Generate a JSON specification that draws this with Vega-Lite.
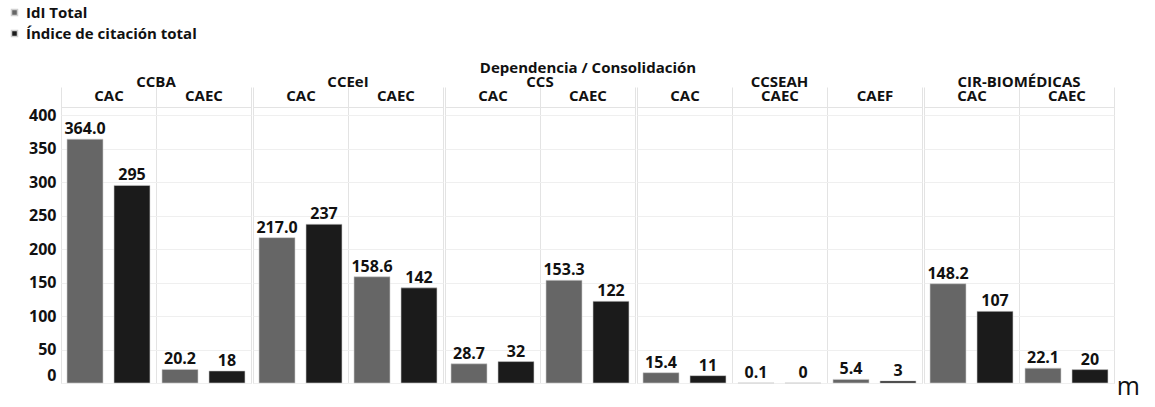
{
  "$schema": "https://vega.github.io/schema/vega-lite/v6.json",
  "title": {
    "text": "m",
    "orient": "bottom",
    "anchor": "end",
    "frame": "bounds",
    "offset": -9,
    "dx": 25,
    "font": "Open Sans",
    "fontSize": 25,
    "fontWeight": "normal",
    "color": "#111111"
  },
  "data": {
    "values": [
      {"dep": "CCBA", "cons": "CAC", "serie": "IdI Total", "value": 364.0},
      {"dep": "CCBA", "cons": "CAC", "serie": "Índice de citación total", "value": 295},
      {"dep": "CCBA", "cons": "CAEC", "serie": "IdI Total", "value": 20.2},
      {"dep": "CCBA", "cons": "CAEC", "serie": "Índice de citación total", "value": 18},
      {"dep": "CCEeI", "cons": "CAC", "serie": "IdI Total", "value": 217.0},
      {"dep": "CCEeI", "cons": "CAC", "serie": "Índice de citación total", "value": 237},
      {"dep": "CCEeI", "cons": "CAEC", "serie": "IdI Total", "value": 158.6},
      {"dep": "CCEeI", "cons": "CAEC", "serie": "Índice de citación total", "value": 142},
      {"dep": "CCS", "cons": "CAC", "serie": "IdI Total", "value": 28.7},
      {"dep": "CCS", "cons": "CAC", "serie": "Índice de citación total", "value": 32},
      {"dep": "CCS", "cons": "CAEC", "serie": "IdI Total", "value": 153.3},
      {"dep": "CCS", "cons": "CAEC", "serie": "Índice de citación total", "value": 122},
      {"dep": "CCSEAH", "cons": "CAC", "serie": "IdI Total", "value": 15.4},
      {"dep": "CCSEAH", "cons": "CAC", "serie": "Índice de citación total", "value": 11},
      {"dep": "CCSEAH", "cons": "CAEC", "serie": "IdI Total", "value": 0.1},
      {"dep": "CCSEAH", "cons": "CAEC", "serie": "Índice de citación total", "value": 0},
      {"dep": "CCSEAH", "cons": "CAEF", "serie": "IdI Total", "value": 5.4},
      {"dep": "CCSEAH", "cons": "CAEF", "serie": "Índice de citación total", "value": 3},
      {"dep": "CIR-BIOMÉDICAS", "cons": "CAC", "serie": "IdI Total", "value": 148.2},
      {"dep": "CIR-BIOMÉDICAS", "cons": "CAC", "serie": "Índice de citación total", "value": 107},
      {"dep": "CIR-BIOMÉDICAS", "cons": "CAEC", "serie": "IdI Total", "value": 22.1},
      {"dep": "CIR-BIOMÉDICAS", "cons": "CAEC", "serie": "Índice de citación total", "value": 20}
    ]
  },
  "transform": [
    {"calculate": "datum.serie == 'IdI Total' ? format(datum.value, '.1f') : format(datum.value, 'd')", "as": "etiqueta"}
  ],
  "facet": {
    "column": {
      "field": "dep",
      "type": "nominal",
      "sort": ["CCBA", "CCEeI", "CCS", "CCSEAH", "CIR-BIOMÉDICAS"],
      "title": "Dependencia / Consolidación",
      "header": {
        "labelOrient": "top",
        "titleOrient": "top",
        "labelFont": "Open Sans",
        "labelFontSize": 15,
        "labelFontWeight": "bold",
        "labelColor": "#111111",
        "labelPadding": -4,
        "titleFont": "Open Sans",
        "titleFontSize": 15,
        "titleFontWeight": "bold",
        "titleColor": "#111111",
        "titlePadding": -11
      }
    }
  },
  "spacing": 0,
  "resolve": {"scale": {"x": "independent", "xOffset": "independent"}},
  "spec": {
    "width": {"step": 95, "for": "position"},
    "height": 276,
    "encoding": {
      "x": {
        "field": "cons",
        "type": "nominal",
        "scale": {"paddingInner": 0, "paddingOuter": 0},
        "axis": {
          "orient": "top",
          "title": null,
          "labelAngle": 0,
          "labelFontSize": 15,
          "tickBand": "extent",
          "tickSize": 20,
          "tickColor": "#e3e3e3",
          "labelPadding": -16,
          "grid": true,
          "gridColor": "#e3e3e3",
          "domainColor": "#e3e3e3"
        }
      },
      "xOffset": {
        "field": "serie",
        "type": "nominal",
        "sort": ["IdI Total", "Índice de citación total"],
        "scale": {"paddingInner": 0.234, "paddingOuter": 0.128}
      },
      "y": {
        "field": "value",
        "type": "quantitative",
        "scale": {"domain": [0, 412], "nice": false},
        "axis": {
          "title": null,
          "values": [0, 50, 100, 150, 200, 250, 300, 350, 400],
          "labelFlush": true,
          "labelFontSize": 16,
          "domain": false,
          "ticks": false,
          "labelPadding": 4,
          "minExtent": 55,
          "gridColor": "#efefef"
        }
      }
    },
    "layer": [
      {
        "mark": {"type": "bar", "stroke": "#cfcfcf", "strokeWidth": 0.6},
        "encoding": {
          "color": {
            "field": "serie",
            "type": "nominal",
            "sort": ["IdI Total", "Índice de citación total"],
            "scale": {"range": ["#666666", "#1b1b1b"]},
            "legend": {
              "orient": "none",
              "legendX": -54,
              "legendY": -102,
              "direction": "vertical",
              "title": null,
              "symbolType": "square",
              "symbolSize": 36,
              "labelFont": "Open Sans",
              "labelFontSize": 15,
              "labelFontWeight": "bold",
              "labelColor": "#111111",
              "labelLimit": 0,
              "rowPadding": 5
            }
          }
        }
      },
      {
        "mark": {"type": "text", "baseline": "alphabetic", "dy": -5, "font": "Open Sans", "fontSize": 16, "fontWeight": "bold", "color": "#111111"},
        "encoding": {
          "text": {"field": "etiqueta", "type": "nominal"}
        }
      }
    ]
  },
  "config": {
    "font": "Open Sans",
    "view": {"stroke": "#e3e3e3"},
    "axis": {
      "labelFont": "Open Sans",
      "labelFontSize": 14,
      "labelFontWeight": "bold",
      "labelColor": "#111111"
    }
  }
}
